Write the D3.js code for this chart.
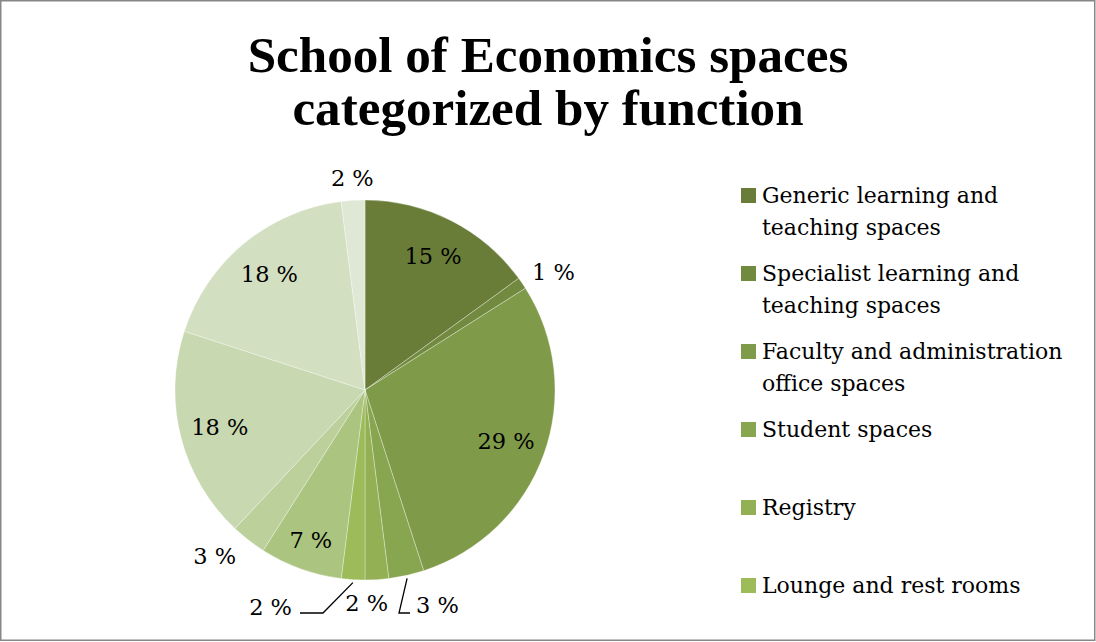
<!DOCTYPE html>
<html>
<head>
<meta charset="utf-8">
<script src="https://cdn.jsdelivr.net/npm/d3@7"></script>
<style>
  html, body { margin: 0; padding: 0; background: #fff; }
</style>
</head>
<body>
<div id="chart"></div>
<script>
// Chart data
var titleLines = ["School of Economics spaces", "categorized by function"];
var categories = [
  "Generic learning and|teaching spaces",
  "Specialist learning and|teaching spaces",
  "Faculty and administration|office spaces",
  "Student spaces",
  "Registry",
  "Lounge and rest rooms"
];
// slice shares in percent, clockwise from 12 o'clock
var shares = [15, 1, 29, 3, 2, 2, 7, 3, 18, 18, 2];

var drawChart = function(){
  const width = 1096;
  const height = 642;

  // olive green shades, dark to light
  var palette = ["#697d38", "#728a40", "#7f9b49", "#88a54f", "#93b055", "#9dbb59",
                 "#abc47f", "#bbd09b", "#c8d8b0", "#d3dfc1", "#dfe8d4"];
  var serif = "'DejaVu Serif', serif";

  var svg = d3.select('#chart')
    .append('svg')
    .attr("width", width)
    .attr("height", height)
    .style("display", "block");

  // outer frame
  svg.append("rect")
    .attr("x", 0.75).attr("y", 0.75)
    .attr("width", width - 2).attr("height", height - 2.5)
    .attr("fill", "white")
    .attr("stroke", "#878787")
    .attr("stroke-width", 1.5);

  // title, sized so the first line spans about 600px
  var title = svg.append("g").selectAll("text")
    .data(titleLines)
    .enter().append("text")
    .attr("x", 548)
    .attr("y", (d, i) => 72 + i * 53)
    .attr("text-anchor", "middle")
    .attr("font-family", "'Liberation Serif', serif")
    .attr("font-weight", "bold")
    .attr("font-size", 48)
    .attr("fill", "black")
    .text(d => d);
  var w0 = title.node().getComputedTextLength();
  title.attr("font-size", 48 * 601 / w0);

  // pie
  var cx = 365, cy = 390, r = 190;
  var pie = d3.pie().sort(null).value(d => d);
  var arcs = pie(shares);
  var arc = d3.arc().innerRadius(0).outerRadius(r);
  var inner = d3.arc().innerRadius(150).outerRadius(150);

  var g = svg.append("g").attr("transform", "translate(" + cx + "," + cy + ")");

  g.selectAll("path")
    .data(arcs)
    .enter().append("path")
    .attr("d", arc)
    .attr("fill", (d, i) => palette[i])
    .attr("stroke", "rgba(255,255,255,0.4)")
    .attr("stroke-width", 0.8);

  // labels: big slices inside, small ones outside
  var mid = d => (d.startAngle + d.endAngle) / 2;
  var polar = (a, rad) => [Math.sin(a) * rad, -Math.cos(a) * rad];

  // slices whose labels get pushed aside with a leader line
  var leaders = {
    3: { label: [51, 215], elbow: [34, 223], end: 45, anchor: "start" },
    5: { label: [-73, 217], elbow: [-42, 223], end: -65, anchor: "end" }
  };
  var nudge = { 4: [-11, 0], 7: [-5, 0] };

  arcs.forEach(function(d, i){
    var a = mid(d);
    var pos, anchor = "middle";
    if (d.data >= 5) {
      pos = inner.centroid(d);
      if (d.data < 10) pos = polar(a, 160);
    } else if (leaders[i]) {
      var L = leaders[i];
      var start = polar(a, 193);
      g.append("polyline")
        .attr("points", [start, L.elbow, [L.end, L.elbow[1]]].map(p => p.join(",")).join(" "))
        .attr("fill", "none")
        .attr("stroke", "black")
        .attr("stroke-width", 1.3);
      pos = [L.label[0], L.label[1]];
      anchor = L.anchor;
    } else {
      var s = Math.sin(a), c = Math.cos(a);
      pos = polar(a, r + 12);
      if (Math.abs(s) < 0.3) {
        pos[1] += c > 0 ? -10 : 12;
      } else {
        anchor = s > 0 ? "start" : "end";
        pos[1] += -c * 8;
      }
      if (nudge[i]) { pos[0] += nudge[i][0]; pos[1] += nudge[i][1]; }
    }
    g.append("text")
      .attr("x", pos[0])
      .attr("y", pos[1])
      .attr("dy", "0.35em")
      .attr("text-anchor", anchor)
      .attr("font-family", serif)
      .attr("font-size", 22.5)
      .attr("fill", "black")
      .text(d.data + " %");
  });

  // legend
  var rows = d3.scalePoint()
    .domain(d3.range(categories.length))
    .range([196, 586]);

  var items = svg.append("g").selectAll("g")
    .data(categories)
    .enter().append("g")
    .attr("transform", (d, i) => "translate(741," + rows(i) + ")");

  items.append("rect")
    .attr("x", 0).attr("y", -8)
    .attr("width", 15).attr("height", 15)
    .attr("fill", (d, i) => palette[i]);

  items.append("text")
    .attr("font-family", serif)
    .attr("font-size", 22)
    .attr("fill", "black")
    .selectAll("tspan")
    .data(d => d.split("|"))
    .enter().append("tspan")
    .attr("x", 21)
    .attr("y", (d, j) => 7 + j * 32)
    .text(d => d);
}

drawChart();
</script>
</body>
</html>
